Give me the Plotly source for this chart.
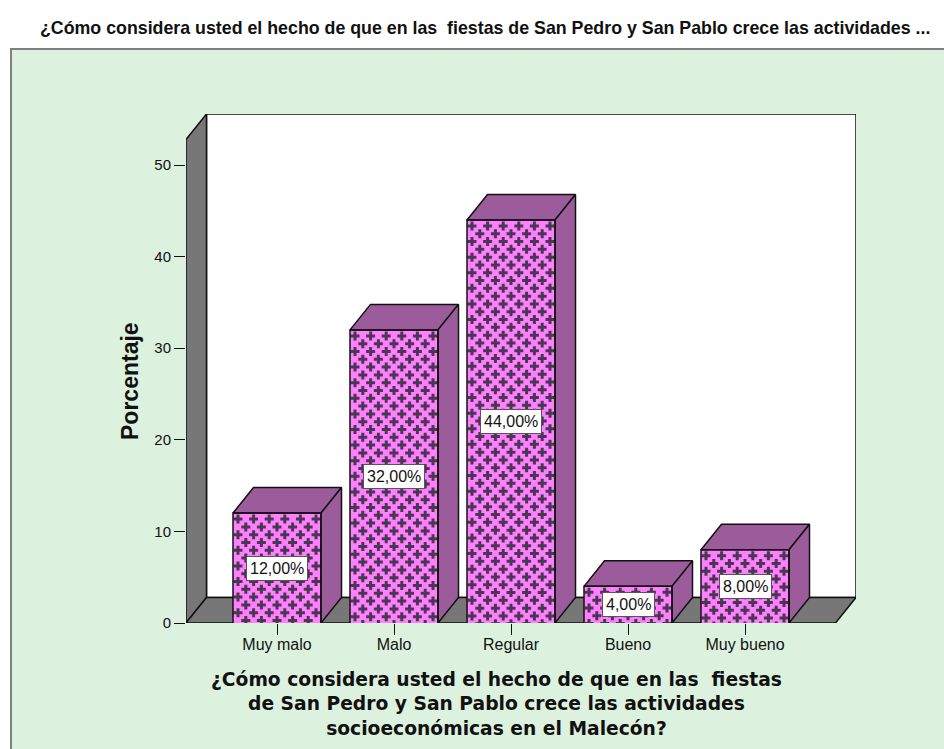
import plotly.graph_objects as go

categories = ["Muy malo", "Malo", "Regular", "Bueno", "Muy bueno"]
percentages = [12, 32, 44, 4, 8]
labels = ["12,00%", "32,00%", "44,00%", "4,00%", "8,00%"]
y_ticks = [0, 10, 20, 30, 40, 50]
title = "¿Cómo considera usted el hecho de que en las  fiestas de San Pedro y San Pablo crece las actividades ..."
x_title = "¿Cómo considera usted el hecho de que en las  fiestas<br>de San Pedro y San Pablo crece las actividades<br>socioeconómicas en el Malecón?"

W, H = 944, 749
L, R, T, B = 186, 856, 114, 623
PX_PER_CAT = 117.0
PX_PER_VAL = 9.16
X0 = 277.0
xr = [(L - X0) / PX_PER_CAT, (R - X0) / PX_PER_CAT]
yr = [0, (B - T) / PX_PER_VAL]
DX = 20.5 / PX_PER_CAT
DY = 25.5 / PX_PER_VAL
BW = 88.0 / PX_PER_CAT
WALL_TOP = yr[1] - DY
FLOOR_RIGHT = xr[1] - DX
PURPLE = "#9c5c9c"
GREY = "#777777"
GREEN = "#dcf2de"
INK = "#111111"
CROSS = "#4a3852"
PINK = "#ff80ff"
CROSS_DX = 15.6 / PX_PER_CAT
CROSS_DY = 7.8 / PX_PER_VAL


def path(points):
    return "M " + " L ".join(f"{x},{y}" for x, y in points) + " Z"


def cross_lattice(i, v):
    """Staggered fill texture for the front face of bar i, hung from its top edge."""
    xs, ys = [], []
    left, right = i - BW / 2, i + BW / 2
    row = 0
    y = v - 6 / PX_PER_VAL
    while y > -4 / PX_PER_VAL:
        x = left + (5 if row % 2 == 0 else 12.8) / PX_PER_CAT
        while x < right:
            xs.append(x)
            ys.append(y)
            x += CROSS_DX
        y -= CROSS_DY
        row += 1
    return xs, ys


fig = go.Figure()
shapes = [
    dict(type="rect", xref="paper", yref="paper", x0=11 / W, x1=1.02, y0=-0.02, y1=1 - 49 / H,
         fillcolor=GREEN, line=dict(color="#808080", width=2), layer="below"),
    dict(type="path", xref="x", yref="y", layer="below", fillcolor="white", line=dict(color=INK, width=1.5),
         path=path([(xr[0] + DX, DY), (xr[1], DY), (xr[1], yr[1]), (xr[0] + DX, yr[1])])),
    dict(type="path", xref="x", yref="y", layer="below", fillcolor=GREY, line=dict(color=INK, width=1.5),
         path=path([(xr[0], 0), (xr[0] + DX, DY), (xr[0] + DX, yr[1]), (xr[0], WALL_TOP)])),
    dict(type="path", xref="x", yref="y", layer="below", fillcolor=GREY, line=dict(color=INK, width=1.5),
         path=path([(xr[0], 0), (FLOOR_RIGHT, 0), (xr[1], DY), (xr[0] + DX, DY)])),
]

fig.add_trace(go.Bar(x=list(range(5)), y=percentages, width=BW, showlegend=False, hoverinfo="skip",
                     marker=dict(color=PINK, line=dict(width=0))))

for i, v in enumerate(percentages):
    cx, cy = cross_lattice(i, v)
    fig.add_trace(go.Scatter(x=cx, y=cy, mode="markers", showlegend=False, hoverinfo="skip",
                             marker=dict(symbol="cross", size=7.5, color=CROSS, line=dict(width=0))))

for i, v in enumerate(percentages):
    a, b = i - BW / 2, i + BW / 2
    for pts in ([(a, v), (b, v), (b + DX, v + DY), (a + DX, v + DY)],
                [(b, 0), (b + DX, DY), (b + DX, v + DY), (b, v)]):
        fig.add_trace(go.Scatter(x=[p[0] for p in pts] + [pts[0][0]], y=[p[1] for p in pts] + [pts[0][1]],
                                 mode="lines", fill="toself", fillcolor=PURPLE,
                                 line=dict(color=INK, width=1.5), hoverinfo="skip", showlegend=False))
    fig.add_trace(go.Scatter(x=[a, a, b, b], y=[0, v, v, 0], mode="lines", line=dict(color=INK, width=1.5),
                             hoverinfo="skip", showlegend=False))

annotations = [
    dict(x=i, y=v / 2, text=t, showarrow=False, font=dict(family="Liberation Sans", size=16, color=INK),
         bgcolor="white", bordercolor="#555555", borderwidth=1, borderpad=3)
    for i, (v, t) in enumerate(zip(percentages, labels))
]
annotations.append(dict(xref="paper", yref="paper", x=485 / W, y=1 - 28 / H, xanchor="center", yanchor="middle",
                        text="<b>" + title + "</b>", showarrow=False,
                        font=dict(family="Liberation Sans", size=17.8, color=INK)))
annotations.append(dict(xref="paper", yref="paper", x=496 / W, y=1 - 704 / H, xanchor="center", yanchor="middle",
                        text="<b>" + x_title + "</b>", showarrow=False,
                        font=dict(family="DejaVu Sans", size=18.7, color=INK)))
annotations.append(dict(xref="paper", yref="paper", x=130 / W, y=1 - 381 / H, xanchor="center", yanchor="middle",
                        text="<b>Porcentaje</b>", showarrow=False,
                        textangle=-90, font=dict(family="Liberation Sans", size=23, color=INK)))

fig.update_layout(
    width=W, height=H, margin=dict(l=0, r=0, t=0, b=0), paper_bgcolor="white", plot_bgcolor="rgba(0,0,0,0)",
    shapes=shapes, annotations=annotations, showlegend=False, bargap=0,
    xaxis=dict(domain=[L / W, R / W], range=xr, tickmode="array", tickvals=list(range(5)), ticktext=categories,
               automargin=False, ticks="outside", ticklen=11, tickcolor=INK, showgrid=False, zeroline=False, showline=False,
               ticklabelstandoff=-4, tickfont=dict(family="Liberation Sans", size=16, color=INK)),
    yaxis=dict(domain=[1 - B / H, 1 - T / H], range=yr, tickmode="array", tickvals=y_ticks,
               automargin=False, ticks="outside", ticklen=11, tickcolor=INK, showgrid=False, zeroline=False, showline=False,
               tickfont=dict(family="Liberation Sans", size=15, color=INK)),
)
fig.write_html("out.html", config={"displayModeBar": False}, post_script="document.body.style.margin='0';")
